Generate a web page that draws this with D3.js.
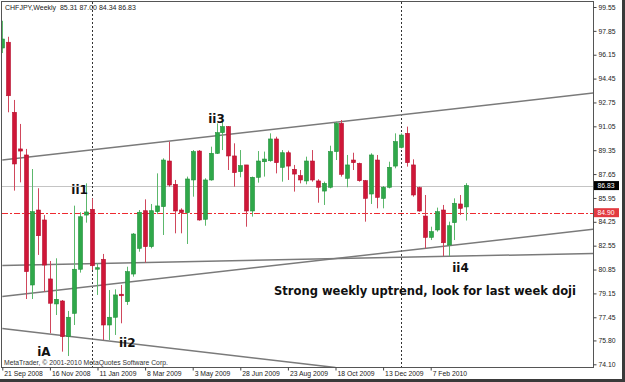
<!DOCTYPE html>
<html>
<head>
<meta charset="utf-8">
<script src="https://cdn.jsdelivr.net/npm/d3@7"></script>
<style>
  body { margin: 0; background: #fff; }
  svg { display: block; font-family: "Liberation Sans", Arial, sans-serif; }
</style>
</head>
<body>
<div id="chart"></div>
<script>
// weekly CHFJPY bars, first bar = week of 21 Sep 2008
const opens  = [96.63, 97.04, 92.05, 89.44, 89.01, 79.75, 85.09, 84.38, 80.18, 78.40,
                78.61, 76.07, 77.73, 80.87, 84.73, 85.14, 80.89, 81.58, 76.90, 77.45,
                79.09, 78.56, 80.53, 82.36, 85.04, 82.48, 84.97, 85.33, 88.58, 86.92,
                85.09, 84.90, 87.23, 89.29, 84.43, 87.23, 89.13, 90.60, 91.03, 88.94,
                87.82, 88.30, 85.02, 87.42, 88.53, 88.60, 90.15, 88.13, 89.17, 87.99,
                87.54, 87.16, 88.58, 87.16, 86.44, 86.71, 89.25, 91.26, 87.35, 88.65,
                88.41, 87.18, 86.23, 88.65, 85.92, 86.71, 88.22, 89.55, 90.55, 88.30,
                86.68, 84.66, 83.14, 83.67, 85.09, 82.60, 84.19, 85.52, 85.31];
const highs  = [98.57, 97.43, 92.93, 91.22, 89.44, 88.01, 86.64, 84.73, 81.46, 81.65,
                78.68, 77.90, 85.40, 84.93, 86.99, 85.92, 81.29, 81.96, 79.39, 79.44,
                79.75, 81.05, 83.45, 85.09, 85.85, 85.52, 87.70, 88.77, 89.96, 87.23,
                85.21, 87.47, 89.36, 89.36, 87.35, 89.60, 91.26, 91.38, 91.07, 89.84,
                89.36, 88.30, 87.47, 89.29, 89.25, 90.55, 90.31, 89.36, 89.32, 88.30,
                87.94, 88.89, 89.36, 87.28, 87.11, 89.67, 91.38, 91.50, 89.01, 89.17,
                88.46, 87.23, 89.13, 89.01, 86.80, 88.53, 90.55, 90.55, 91.03, 88.70,
                86.75, 86.16, 83.90, 85.26, 85.45, 84.26, 85.92, 86.16, 87.00];
const lows   = [96.27, 92.05, 86.47, 87.06, 78.75, 78.75, 81.89, 79.27, 76.31, 77.61,
                75.00, 74.69, 76.90, 80.63, 84.19, 80.82, 79.04, 75.83, 75.83, 76.19,
                77.02, 78.33, 80.34, 82.12, 81.34, 82.36, 84.80, 83.31, 86.75, 83.43,
                83.43, 82.67, 86.04, 84.33, 83.97, 87.18, 89.08, 89.36, 87.94, 86.75,
                87.42, 83.90, 84.62, 87.04, 87.47, 88.53, 87.70, 87.11, 87.23, 86.40,
                86.99, 86.92, 87.11, 85.61, 85.45, 86.63, 88.65, 87.47, 86.71, 87.94,
                87.11, 84.26, 85.52, 85.21, 85.21, 86.63, 88.06, 89.48, 88.18, 86.04,
                84.97, 82.36, 82.95, 83.55, 81.81, 81.81, 82.95, 84.73, 84.34];
const closes = [97.27, 93.23, 88.37, 89.29, 80.70, 84.97, 83.26, 81.17, 78.45, 78.73,
                76.07, 77.45, 80.87, 84.61, 84.95, 81.12, 80.98, 76.90, 77.45, 79.04,
                78.99, 80.70, 83.38, 84.93, 82.48, 85.04, 85.38, 88.65, 86.87, 85.02,
                84.90, 87.30, 89.25, 84.38, 87.23, 89.13, 90.60, 91.03, 88.94, 87.75,
                88.25, 85.02, 87.42, 88.58, 88.72, 90.15, 88.46, 89.17, 88.22, 87.65,
                87.23, 88.58, 87.23, 86.71, 86.99, 89.25, 91.26, 87.63, 88.30, 88.46,
                87.18, 85.92, 89.01, 85.99, 86.71, 88.13, 89.96, 90.43, 88.46, 86.16,
                85.02, 83.14, 83.55, 84.97, 82.76, 83.97, 85.57, 85.21, 86.83];

const yTicks = [99.55, 97.85, 96.15, 94.45, 92.75, 91.05, 89.35, 87.65, 85.95, 84.25,
                82.55, 80.85, 79.15, 77.45, 75.80, 74.10];
const xTickLabels = ["21 Sep 2008", "16 Nov 2008", "11 Jan 2009", "8 Mar 2009", "3 May 2009",
                     "28 Jun 2009", "23 Aug 2009", "18 Oct 2009", "13 Dec 2009", "7 Feb 2010"];
const separators = ["4 Jan 2009", "3 Jan 2010"];

const bidPrice = 86.83;
const levelPrice = 84.90;
const header = "CHFJPY,Weekly  85.31 87.00 84.34 86.83";
const copyright = "MetaTrader, \u00a9 2001-2010 MetaQuotes Software Corp.";

// trendlines as [date, price] pairs
const trendlines = [
  [["21 Sep 2008", 88.65], ["12 Sep 2010", 93.60]],
  [["21 Sep 2008", 81.14], ["12 Sep 2010", 82.03]],
  [["21 Sep 2008", 78.93], ["12 Sep 2010", 83.90]],
  [["21 Sep 2008", 76.65], ["18 Oct 2009", 73.87]]
];

// wave labels: text, bar index, baseline price
const waveLabels = [
  ["iA", 7, 74.69],
  ["ii1", 13, 86.23],
  ["ii2", 21, 75.30],
  ["ii3", 36, 91.29],
  ["ii4", 77, 80.71]
];
const note = "Strong weekly uptrend, look for last week doji";

const width = 625, height = 382;
const plot = { left: 2, top: 2, right: 593, bottom: 367 };

const parseDate = d3.timeParse("%d %b %Y");
const firstWeek = parseDate("21 Sep 2008");
const weeks = d3.timeWeek.range(firstWeek, d3.timeWeek.offset(firstWeek, opens.length));
const bars = weeks.map((w, i) => ({ date: w, o: opens[i], h: highs[i], l: lows[i], c: closes[i] }));

const svg = d3.select("#chart").append("svg")
  .attr("width", width)
  .attr("height", height);

svg.append("rect").attr("width", width).attr("height", height).attr("fill", "#fff");

const x = d3.scaleTime()
  .domain([weeks[0], weeks[weeks.length - 1]])
  .range([2.3, 466.4]);
const y = d3.scaleLinear()
  .domain([74.10, 99.55])
  .range([364.3, 7]);

svg.append("clipPath").attr("id", "clip")
  .append("rect")
    .attr("x", plot.left).attr("y", plot.top)
    .attr("width", plot.right - plot.left).attr("height", plot.bottom - plot.top);

const area = svg.append("g").attr("clip-path", "url(#clip)");

// bid line and level line
area.append("line")
  .attr("x1", plot.left).attr("x2", plot.right)
  .attr("y1", Math.round(y(bidPrice)) + 0.5).attr("y2", Math.round(y(bidPrice)) + 0.5)
  .attr("stroke", "#c4c4c4");
area.append("line")
  .attr("x1", plot.left).attr("x2", plot.right)
  .attr("y1", Math.round(y(levelPrice)) + 0.5).attr("y2", Math.round(y(levelPrice)) + 0.5)
  .attr("stroke", "#ee2a30")
  .attr("stroke-dasharray", "6 2 2 2");

// period separators
area.selectAll("line.sep")
  .data(separators.map(parseDate))
  .join("line")
    .attr("class", "sep")
    .attr("x1", d => Math.round(x(d)) + 0.5).attr("x2", d => Math.round(x(d)) + 0.5)
    .attr("y1", plot.top).attr("y2", plot.bottom)
    .attr("stroke", "#333")
    .attr("stroke-dasharray", "2 2");

// trendlines
area.selectAll("line.trend")
  .data(trendlines)
  .join("line")
    .attr("class", "trend")
    .attr("x1", d => x(parseDate(d[0][0]))).attr("y1", d => y(d[0][1]))
    .attr("x2", d => x(parseDate(d[1][0]))).attr("y2", d => y(d[1][1]))
    .attr("stroke", "#7a7a7a")
    .attr("stroke-width", 1.5);

// candles
const up = "#2fa84a", down = "#cf1738";
const candle = area.selectAll("g.candle")
  .data(bars)
  .join("g")
    .attr("class", "candle");

candle.append("line")
  .attr("x1", d => Math.round(x(d.date)) + 0.5)
  .attr("x2", d => Math.round(x(d.date)) + 0.5)
  .attr("y1", d => y(d.h))
  .attr("y2", d => y(d.l))
  .attr("stroke", d => d.c >= d.o ? "#5cb86c" : "#d0475c");

candle.append("rect")
  .attr("x", d => Math.round(x(d.date)) - 1.5)
  .attr("y", d => y(Math.max(d.o, d.c)))
  .attr("width", 4)
  .attr("height", d => Math.max(1.5, Math.abs(y(d.o) - y(d.c))))
  .attr("fill", d => d.c >= d.o ? up : down)
  .attr("stroke", d => d.c >= d.o ? "#21903a" : "#b5102e")
  .attr("stroke-width", 0.6);

// frame
svg.append("rect")
  .attr("x", plot.left - 0.5).attr("y", plot.top - 0.5)
  .attr("width", plot.right - plot.left + 1).attr("height", plot.bottom - plot.top + 1)
  .attr("fill", "none")
  .attr("stroke", "#555");

// right price axis
const yAxis = svg.append("g")
  .attr("transform", `translate(${plot.right + 0.5},0)`)
  .call(d3.axisRight(y).tickValues(yTicks).tickSize(3).tickFormat(d3.format(".2f")));
yAxis.select(".domain").remove();
yAxis.selectAll("line").attr("stroke", "#444");
yAxis.selectAll("text")
  .attr("x", 5)
  .attr("font-size", 6.8)
  .attr("font-family", "Liberation Sans, Arial, sans-serif")
  .attr("fill", "#222");

// bottom time axis
const xAxis = svg.append("g")
  .attr("transform", `translate(0,${plot.bottom + 0.5})`)
  .call(d3.axisBottom(x).tickValues(xTickLabels.map(parseDate)).tickSize(3)
    .tickFormat(d3.timeFormat("%-d %b %Y")));
xAxis.select(".domain").remove();
xAxis.selectAll("line").attr("stroke", "#444");
xAxis.selectAll("text")
  .attr("text-anchor", "start")
  .attr("x", 1.5)
  .attr("y", 4)
  .attr("font-size", 6.8)
  .attr("font-family", "Liberation Sans, Arial, sans-serif")
  .attr("fill", "#222");

// price tags on the axis
const tags = [[bidPrice, "#000", "#fff"], [levelPrice, "#e23a40", "#fff"]];
tags.forEach(([p, bg, fg]) => {
  const g = svg.append("g").attr("transform", `translate(${plot.right + 1},${y(p)})`);
  g.append("rect").attr("x", 0).attr("y", -4.5).attr("width", 25).attr("height", 9).attr("fill", bg);
  g.append("text").attr("x", 3.5).attr("y", 2.5)
    .attr("font-size", 6.8).attr("fill", fg).text(d3.format(".2f")(p));
});

// header and copyright
svg.append("text").attr("x", 5).attr("y", 10)
  .attr("font-size", 7).attr("fill", "#222")
  .attr("xml:space", "preserve").style("white-space", "pre")
  .text(header);
svg.append("text").attr("x", 4).attr("y", 365)
  .attr("font-size", 6.8).attr("fill", "#333")
  .text(copyright);

// annotations
svg.selectAll("text.wave")
  .data(waveLabels)
  .join("text")
    .attr("class", "wave")
    .attr("x", d => x(weeks[d[1]]))
    .attr("y", d => y(d[2]))
    .attr("text-anchor", "middle")
    .attr("font-family", "DejaVu Sans, sans-serif")
    .attr("font-weight", "bold")
    .attr("font-size", 12)
    .attr("fill", "#111")
    .text(d => d[0]);

svg.append("text")
  .attr("x", 274).attr("y", 295)
  .attr("font-family", "DejaVu Sans, sans-serif")
  .attr("font-weight", "bold")
  .attr("font-size", 12)
  .attr("textLength", 302)
  .attr("lengthAdjust", "spacingAndGlyphs")
  .attr("fill", "#111")
  .text(note);

// outer window edge
svg.append("line").attr("x1", 623.5).attr("x2", 623.5).attr("y1", 0).attr("y2", height)
  .attr("stroke", "#3a3a3a").attr("stroke-width", 3);
svg.append("line").attr("x1", 0).attr("x2", width).attr("y1", 380.5).attr("y2", 380.5)
  .attr("stroke", "#3a3a3a").attr("stroke-width", 3);
</script>
</body>
</html>
